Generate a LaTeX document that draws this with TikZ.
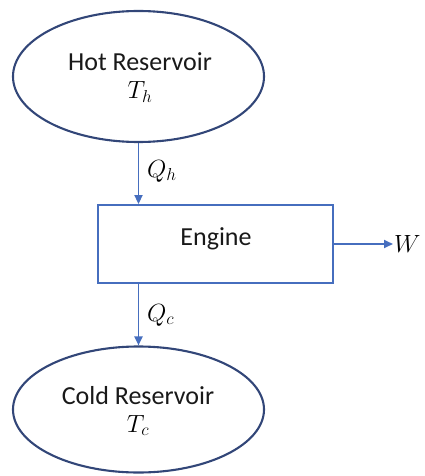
\documentclass[tikz,border=0pt]{standalone}
\usepackage{fontspec}
\setmainfont{Carlito}
\usetikzlibrary{arrows.meta,shapes.geometric}
\definecolor{ellcol}{RGB}{50,70,120}
\definecolor{boxcol}{RGB}{70,110,190}
\tikzset{
  reservoir/.style={draw=ellcol, line width=2.1pt, ellipse, inner sep=0pt, align=center},
  enginebox/.style={draw=boxcol, line width=1.9pt, rectangle, inner sep=0pt},
  flow/.style={draw=boxcol, line width=1.9pt, -{Triangle[length=9pt,width=8pt]}},
  lbl/.style={font=\fontsize{26}{28}\selectfont, text=black!90, anchor=base, inner sep=0pt},
  mlbl/.style={font=\fontsize{26}{28}\selectfont, anchor=base, inner sep=0pt}
}
\begin{document}
\begin{tikzpicture}[x=1pt,y=-1pt]
\useasboundingbox (0,0) rectangle (424,476);
\node[reservoir, minimum width=251pt, minimum height=131pt] (hot) at (138.5,76.5) {};
\node[lbl] (hottext) at (140,71) {Hot Reservoir};
\node[mlbl] (th) at (140,99) {$T_h$};
\node[enginebox, minimum width=235pt, minimum height=78pt] (eng) at (215.5,244) {};
\node[lbl] (engtext) at (216,245) {Engine};
\node[reservoir, minimum width=251pt, minimum height=126pt] (cold) at (138.5,409.5) {};
\node[lbl] (coldtext) at (138,404) {Cold Reservoir};
\node[mlbl] (tc) at (138,432) {$T_c$};
\coordinate (wend) at (393,244);
\node[mlbl, anchor=base west] (w) at (394,252) {$W$};
\draw[flow] (hot.south) -- (hot.south |- eng.north);
\draw[flow] (eng.south -| hot.south) -- (cold.north);
\draw[flow] (eng.east) -- (wend);
\node[mlbl, anchor=base west] (qh) at (147,177) {$Q_h$};
\node[mlbl, anchor=base west] (qc) at (147,321) {$Q_c$};
\end{tikzpicture}
\end{document}
